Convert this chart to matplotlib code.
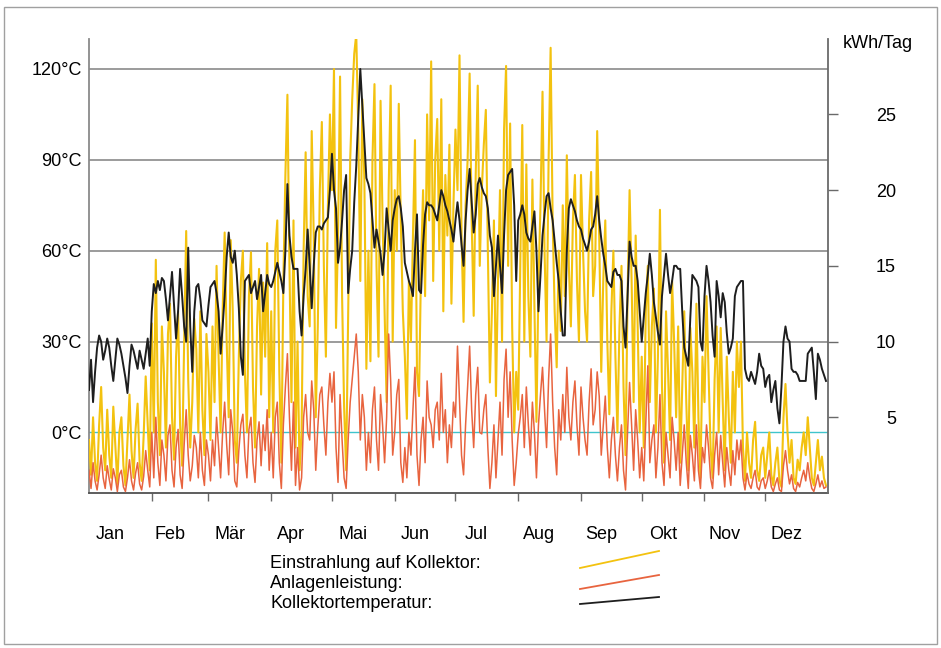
import numpy as np
import matplotlib
matplotlib.use("Agg")
import matplotlib.pyplot as plt
from matplotlib.lines import Line2D
from matplotlib.patches import Rectangle

plt.rcParams["font.family"] = ["Liberation Sans", "DejaVu Sans"]

# -----------------------------
# Data (one value per day)
# -----------------------------
months = ["Jan", "Feb", "Mär", "Apr", "Mai", "Jun",
          "Jul", "Aug", "Sep", "Okt", "Nov", "Dez"]
month_days = [31, 28, 31, 30, 31, 30, 31, 31, 30, 31, 30, 31]

temp_ticks = [0, 30, 60, 90, 120]
kwh_ticks = [5, 10, 15, 20, 25]

# Kollektortemperatur (deg C)
kt_jan = [14, 24, 10, 20, 28, 32, 30, 24, 27, 31, 28, 22, 17, 24, 31, 29, 26, 22, 18, 13, 22, 29, 27, 24, 21, 27, 24, 21, 26, 31, 22]
kt_feb = [40, 49, 46, 50, 47, 51, 50, 44, 37, 45, 53, 42, 31, 40, 54, 45, 35, 30, 61, 35, 20, 40, 48, 49, 44, 37, 36, 35]
kt_mar = [42, 48, 49, 50, 46, 40, 26, 35, 45, 58, 66, 58, 56, 60, 52, 41, 25, 19, 50, 51, 52, 46, 48, 50, 44, 48, 52, 40, 46, 52, 49]
kt_apr = [48, 50, 53, 56, 53, 50, 46, 60, 82, 65, 58, 54, 54, 54, 40, 32, 45, 54, 67, 55, 41, 55, 66, 68, 68, 67, 69, 70, 71, 80]
kt_mai = [92, 80, 74, 56, 61, 70, 80, 85, 46, 54, 60, 76, 88, 104, 120, 108, 96, 84, 82, 79, 70, 61, 67, 63, 59, 52, 60, 74, 67, 60, 70]
kt_jun = [74, 77, 78, 74, 68, 56, 53, 50, 48, 45, 60, 72, 47, 46, 62, 72, 76, 75, 75, 74, 72, 70, 75, 80, 78, 75, 73, 70, 67, 63]
kt_jul = [70, 76, 70, 62, 55, 70, 80, 87, 76, 66, 72, 82, 84, 81, 79, 78, 74, 65, 61, 45, 55, 65, 55, 46, 65, 80, 85, 86, 87, 75, 50]
kt_aug = [70, 72, 75, 72, 66, 64, 63, 68, 73, 60, 40, 52, 65, 72, 78, 79, 74, 70, 63, 56, 50, 40, 32, 32, 60, 74, 77, 75, 73, 70, 68]
kt_sep = [67, 64, 62, 60, 63, 67, 68, 72, 78, 70, 64, 59, 55, 50, 49, 48, 53, 54, 52, 52, 50, 35, 28, 45, 63, 58, 55, 55, 50, 40]
kt_okt = [30, 38, 46, 52, 59, 52, 43, 38, 33, 29, 45, 52, 59, 52, 46, 50, 55, 55, 54, 54, 40, 28, 25, 22, 38, 52, 51, 50, 48, 30, 27]
kt_nov = [45, 55, 50, 43, 32, 25, 50, 45, 38, 46, 43, 33, 26, 28, 31, 45, 48, 49, 50, 50, 21, 18, 17, 20, 18, 16, 20, 26, 22, 21]
kt_dez = [15, 18, 19, 10, 14, 17, 8, 3, 15, 30, 35, 31, 30, 21, 20, 20, 19, 17, 17, 17, 17, 26, 27, 28, 20, 11, 26, 24, 21, 19, 17]

# Einstrahlung auf Kollektor (kWh/Tag)
es_jan = [3.5, 1.2, 5.0, 2.0, 0.8, 4.5, 7.0, 3.0, 1.5, 5.5, 2.5, 1.0, 5.7, 3.2, 0.6, 4.0, 5.0, 1.8, 0.5, 3.5, 6.5, 2.8, 1.0, 4.2, 5.9, 2.0, 0.8, 3.8, 7.7, 4.5, 1.5]
es_feb = [11.2, 4.0, 15.4, 6.0, 2.5, 11.0, 8.0, 3.0, 10.5, 12.5, 5.0, 2.2, 9.0, 12.0, 4.5, 1.8, 10.0, 17.3, 7.5, 3.0, 6.0, 11.5, 9.5, 4.0, 12.0, 5.5, 2.5, 10.5]
es_mar = [8.0, 3.5, 11.0, 6.0, 15.0, 9.0, 4.0, 12.0, 17.2, 10.0, 5.0, 16.7, 12.0, 3.5, 2.0, 9.0, 14.0, 16.0, 8.0, 4.0, 13.0, 15.9, 7.0, 3.0, 11.0, 14.8, 6.5, 13.9, 9.0, 16.5, 5.0]
es_apr = [12.0, 4.0, 16.0, 18.0, 8.0, 2.0, 14.0, 21.0, 26.3, 15.0, 6.0, 18.0, 3.0, 10.0, 1.5, 4.0, 16.0, 22.5, 13.0, 11.0, 23.9, 17.0, 5.0, 11.0, 20.0, 24.5, 15.0, 9.0, 19.0, 25.0]
es_mai = [20.0, 28.0, 10.9, 17.0, 27.5, 13.0, 5.7, 1.5, 12.0, 22.0, 26.0, 29.0, 30.3, 24.0, 14.0, 26.0, 20.7, 8.2, 16.0, 8.7, 22.0, 27.0, 15.0, 9.0, 25.9, 18.0, 12.0, 6.0, 20.0, 26.9, 10.0]
es_jun = [20.0, 16.0, 25.7, 18.0, 12.0, 9.0, 4.9, 14.0, 10.0, 17.0, 23.3, 8.0, 6.4, 15.0, 20.0, 13.0, 25.0, 18.0, 28.5, 14.0, 22.0, 24.7, 16.0, 26.0, 12.0, 21.0, 17.0, 23.0, 12.5, 19.0]
es_jul = [24.0, 20.0, 28.9, 17.0, 11.3, 19.0, 22.0, 27.7, 18.0, 11.7, 21.0, 26.9, 15.0, 20.0, 23.0, 25.3, 16.0, 7.3, 12.0, 18.0, 6.4, 14.0, 20.0, 10.0, 24.0, 28.2, 15.0, 24.4, 11.0, 4.0, 8.0]
es_aug = [5.5, 15.0, 24.3, 10.0, 21.7, 13.0, 9.0, 20.7, 12.3, 4.7, 14.0, 19.0, 26.5, 16.0, 10.0, 22.0, 29.4, 18.0, 12.0, 8.3, 16.0, 10.7, 19.0, 13.0, 22.3, 15.0, 11.0, 18.0, 21.0, 14.0, 10.0]
es_sep = [21.0, 16.0, 12.0, 10.0, 18.0, 21.2, 13.0, 15.0, 23.9, 17.0, 8.0, 14.0, 18.0, 10.0, 5.2, 12.0, 16.0, 9.0, 4.0, 11.0, 15.0, 7.0, 2.5, 13.0, 20.0, 14.0, 6.0, 17.0, 11.0, 4.0]
es_okt = [9.0, 3.0, 12.0, 15.0, 6.0, 11.0, 13.5, 4.0, 9.0, 18.7, 7.0, 2.0, 12.0, 8.0, 3.5, 14.0, 10.0, 5.0, 11.0, 2.0, 7.0, 12.0, 6.0, 1.5, 10.9, 8.0, 3.0, 12.5, 5.0, 1.0, 9.0]
es_nov = [6.0, 13.0, 8.0, 3.0, 1.0, 7.5, 11.0, 4.0, 10.9, 6.0, 1.5, 9.0, 5.0, 2.0, 8.0, 4.0, 10.0, 7.0, 10.0, 3.0, 0.8, 4.0, 2.0, 1.0, 3.5, 4.7, 1.5, 0.8, 2.5, 3.0]
es_dez = [1.0, 2.5, 4.0, 1.2, 0.5, 2.0, 3.0, 0.8, 0.4, 5.0, 7.2, 4.0, 2.0, 3.5, 1.0, 0.6, 2.2, 1.5, 3.0, 4.0, 2.5, 5.0, 3.0, 1.0, 0.5, 2.0, 3.5, 1.5, 2.4, 1.0, 0.5]

# Anlagenleistung (kWh/Tag)
al_jan = [1.5, 0.3, 2.0, 0.8, 0.2, 1.2, 2.5, 1.0, 0.3, 1.8, 0.9, 0.2, 1.6, 1.0, 0.1, 1.2, 1.5, 0.4, 0.1, 1.0, 2.2, 0.8, 0.2, 1.3, 2.0, 0.6, 0.2, 1.1, 2.8, 1.5, 0.4]
al_feb = [4.0, 1.0, 5.0, 2.0, 0.5, 3.5, 2.5, 0.8, 3.8, 4.5, 1.5, 0.4, 3.0, 4.2, 1.2, 0.3, 3.2, 5.5, 2.5, 0.8, 1.8, 3.8, 3.0, 1.0, 4.0, 1.5, 0.5, 3.5]
al_mar = [2.5, 0.8, 3.5, 1.8, 5.0, 3.0, 1.0, 4.0, 6.0, 3.2, 1.2, 5.5, 4.0, 0.8, 0.4, 2.8, 4.5, 5.2, 2.5, 1.0, 4.2, 5.0, 2.0, 0.7, 3.5, 4.7, 1.8, 4.5, 2.8, 5.5, 1.5]
al_apr = [4.0, 1.0, 5.0, 6.0, 2.0, 0.3, 4.5, 7.0, 9.2, 5.0, 1.5, 6.0, 0.5, 3.0, 0.2, 1.0, 5.0, 6.5, 4.0, 3.5, 7.4, 5.5, 1.5, 4.3, 6.5, 7.0, 4.5, 2.5, 6.0, 7.9]
al_mai = [6.0, 8.0, 3.0, 0.7, 6.5, 3.5, 1.0, 0.3, 3.5, 6.0, 7.5, 9.0, 10.5, 8.0, 3.5, 6.5, 5.0, 1.5, 4.0, 2.0, 5.5, 7.0, 3.5, 1.5, 6.5, 4.5, 2.0, 5.0, 10.5, 7.4, 2.5]
al_jun = [4.0, 6.5, 7.5, 2.0, 0.7, 3.0, 1.0, 4.0, 2.5, 5.5, 8.3, 2.5, 0.5, 3.5, 5.0, 2.0, 7.4, 5.0, 4.5, 3.0, 5.5, 6.0, 3.5, 7.9, 4.0, 5.5, 2.0, 4.5, 3.0, 6.0]
al_jul = [5.0, 9.7, 6.0, 2.5, 1.2, 4.5, 7.0, 9.7, 5.5, 3.0, 6.5, 8.3, 4.0, 3.9, 5.5, 6.5, 3.0, 0.3, 2.0, 4.5, 1.0, 3.5, 6.0, 2.5, 7.5, 9.5, 5.0, 8.0, 3.5, 0.5, 2.0]
al_aug = [3.9, 5.0, 6.5, 3.0, 7.0, 4.5, 2.5, 6.0, 4.0, 1.0, 4.5, 6.5, 8.3, 5.5, 3.0, 7.5, 10.5, 6.0, 3.0, 1.2, 5.5, 3.5, 6.5, 4.0, 8.3, 5.0, 3.5, 6.0, 7.4, 4.5, 2.5]
al_sep = [7.0, 5.0, 3.5, 2.5, 6.0, 8.2, 4.5, 5.5, 8.0, 6.4, 2.5, 4.5, 6.4, 3.0, 1.0, 3.5, 5.0, 2.5, 0.8, 3.0, 4.5, 1.5, 0.2, 4.0, 7.3, 4.5, 1.5, 5.5, 3.5, 1.0]
al_okt = [3.0, 0.8, 4.5, 8.4, 2.0, 3.5, 4.5, 1.0, 3.0, 6.5, 2.0, 0.5, 4.0, 2.5, 1.0, 5.0, 3.5, 1.5, 4.0, 0.5, 2.5, 4.5, 2.0, 0.3, 3.8, 2.5, 0.8, 4.5, 1.5, 0.3, 3.0]
al_nov = [2.0, 4.5, 3.0, 1.0, 0.3, 2.5, 4.0, 1.2, 3.8, 2.0, 0.4, 3.0, 1.5, 0.5, 2.8, 1.2, 3.5, 2.2, 3.5, 1.0, 0.2, 1.3, 0.6, 0.3, 1.0, 1.5, 0.4, 0.2, 0.8, 1.0]
al_dez = [0.3, 0.8, 1.5, 0.4, 0.1, 0.6, 1.0, 0.2, 0.1, 1.8, 2.8, 1.5, 0.6, 1.2, 0.3, 0.1, 0.7, 0.4, 1.0, 1.5, 0.8, 2.0, 1.0, 0.3, 0.1, 0.6, 1.2, 0.4, 0.8, 0.3, 0.4]

temperatur = np.concatenate([kt_jan, kt_feb, kt_mar, kt_apr, kt_mai, kt_jun,
                             kt_jul, kt_aug, kt_sep, kt_okt, kt_nov, kt_dez])
einstrahlung = np.concatenate([es_jan, es_feb, es_mar, es_apr, es_mai, es_jun,
                               es_jul, es_aug, es_sep, es_okt, es_nov, es_dez])
leistung = np.concatenate([al_jan, al_feb, al_mar, al_apr, al_mai, al_jun,
                           al_jul, al_aug, al_sep, al_okt, al_nov, al_dez])

# -----------------------------
# Layout / style
# -----------------------------
W, H = 941, 648
YELLOW = "#f3c20f"
RED = "#e8643f"
BLACK = "#1e1e1e"
GRID = "#8a8a8a"
CYAN = "#3fc4cc"
AXIS = "#6a6a6a"
FS = 13

fig = plt.figure(figsize=(W / 100, H / 100), dpi=100)
rect = [89 / W, 1 - 493 / H, 739 / W, (493 - 38.7) / H]

ax = fig.add_axes(rect)           # temperature axis + grid
ax2 = ax.twinx()                  # kWh axis (yellow, red)
ax3 = fig.add_axes(rect, sharex=ax, sharey=ax)  # black line on top
ax3.set_axis_off()

n_days = sum(month_days)
ax.set_xlim(0, n_days)
ax.set_ylim(-20, 130)
ax2.set_ylim(0, 30)

for t in temp_ticks:
    ax.axhline(t, color=CYAN if t == 0 else GRID,
               lw=1.0 if t == 0 else 1.2, zorder=0)

# Data lines
x_e = np.arange(len(einstrahlung))
x_l = np.arange(len(leistung))
x_t = np.arange(len(temperatur))
ax2.plot(x_e, einstrahlung, color=YELLOW, lw=1.5, zorder=2)
ax2.plot(x_l, leistung, color=RED, lw=1.1, zorder=3)
ax3.plot(x_t, temperatur, color=BLACK, lw=1.4, zorder=4)

# Left axis
ax.set_yticks(temp_ticks)
ax.set_yticklabels([f"{t}°C" for t in temp_ticks], fontsize=FS)
ax.tick_params(axis="y", length=0, pad=5)

# Right axis
ax2.set_yticks(kwh_ticks)
ax2.set_yticklabels([str(k) for k in kwh_ticks], fontsize=FS, ha="right")
ax2.tick_params(axis="y", direction="out", length=7, width=1.0,
                color=AXIS, pad=42)

# X axis: month boundaries as ticks, labels in between
month_starts = np.cumsum([0] + month_days)
ax.set_xticks(month_starts[1:-1])
ax.set_xticklabels([])
ax.tick_params(axis="x", which="major", direction="out", length=6,
               width=1.0, color=AXIS)
label_pos = month_starts[:-1] + np.array(month_days) / 2 - 5
ax.set_xticks(label_pos, minor=True)
ax.set_xticklabels(months, minor=True, fontsize=FS)
ax.tick_params(axis="x", which="minor", length=0, pad=24)

for a in (ax, ax2):
    a.spines["top"].set_visible(False)
ax.spines["right"].set_visible(False)
ax2.spines["left"].set_visible(False)
ax2.spines["bottom"].set_visible(False)
ax.spines["left"].set_color(GRID)
ax.spines["left"].set_linewidth(1.3)
ax.spines["bottom"].set_color("#505050")
ax.spines["bottom"].set_linewidth(1.3)
ax2.spines["right"].set_color(AXIS)
ax2.spines["right"].set_linewidth(1.3)

fig.text(843 / W, 1 - 43 / H, "kWh/Tag", fontsize=FS, va="center", ha="left")

# Legend
legend_items = [("Einstrahlung auf Kollektor:", YELLOW, 563, 568, 551),
                ("Anlagenleistung:", RED, 583, 589, 575),
                ("Kollektortemperatur:", BLACK, 603, 604, 597)]
for label, col, ty, y0, y1 in legend_items:
    fig.text(270 / W, 1 - ty / H, label, fontsize=FS, va="center", ha="left")
    fig.add_artist(Line2D([580 / W, 659 / W], [1 - y0 / H, 1 - y1 / H],
                          transform=fig.transFigure, color=col, lw=1.3))

# Outer frame
fig.add_artist(Rectangle((4 / W, 4 / H), 933 / W, 637 / H,
                         transform=fig.transFigure, fill=False,
                         ec="#a0a0a0", lw=1.0))

fig.savefig("out.png", dpi=100)
